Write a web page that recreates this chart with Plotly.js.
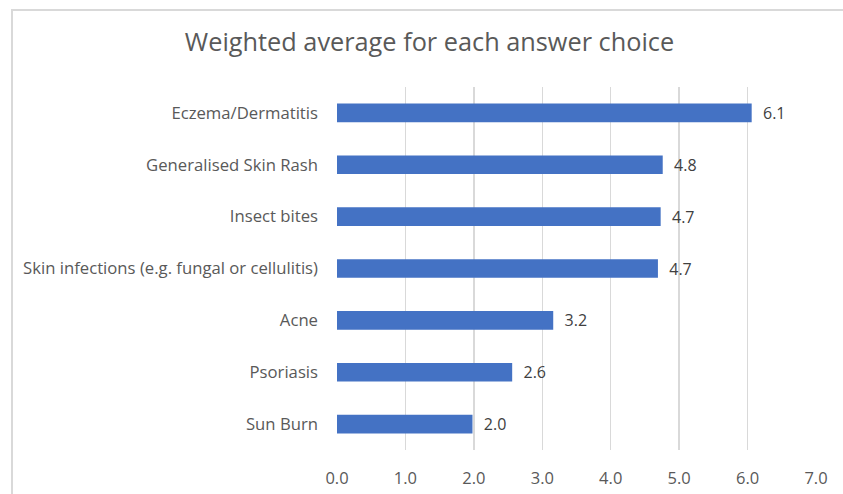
<!DOCTYPE html>
<html>
<head>
<meta charset="utf-8">
<script src="https://cdn.plot.ly/plotly-3.0.1.min.js"></script>
<style>
html,body{margin:0;padding:0;background:#fff;overflow:hidden;}
#wrap{position:relative;width:843px;height:494px;overflow:hidden;}
#chart{width:843px;height:494px;}
#frame{position:absolute;left:11px;top:9px;width:900px;height:600px;
  border-left:2px solid #d9d9d9;border-top:2px solid #d9d9d9;pointer-events:none;}
</style>
</head>
<body>
<div id="wrap">
<div id="chart"></div>
<div id="frame"></div>
</div>
<script>
const categories = [
  "Eczema/Dermatitis",
  "Generalised Skin Rash",
  "Insect bites",
  "Skin infections (e.g. fungal or cellulitis)",
  "Acne",
  "Psoriasis",
  "Sun Burn"
];
const values = [6.06, 4.76, 4.73, 4.69, 3.16, 2.56, 1.98];
const xTickVals = [0, 1, 2, 3, 4, 5, 6, 7];
const xTickText = ["0.0", "1.0", "2.0", "3.0", "4.0", "5.0", "6.0", "7.0"];
const chartTitle = "Weighted average for each answer choice";

const FONT = "'Open Sans', Lato, sans-serif";

const trace = {
  type: "bar",
  orientation: "h",
  y: categories,
  x: values,
  marker: {color: "#4472c4"},
  text: values.map(v => "\u00a0\u00a0" + v.toFixed(1)),
  textposition: "outside",
  constraintext: "none",
  cliponaxis: false,
  textfont: {family: FONT, size: 16, color: "#404040"},
  hoverinfo: "none"
};

const layout = {
  width: 843,
  height: 494,
  margin: {l: 337, r: 26.5, t: 87, b: 44, pad: 0},
  paper_bgcolor: "#ffffff",
  plot_bgcolor: "#ffffff",
  showlegend: false,
  bargap: 0.64,
  title: {
    text: chartTitle,
    font: {family: FONT, size: 25.3, color: "#595959"},
    x: 0.5095, xref: "container", xanchor: "center",
    y: 0.915, yref: "container", yanchor: "middle"
  },
  xaxis: {
    range: [0, 7],
    tickvals: xTickVals,
    ticktext: xTickText,
    showgrid: true,
    gridcolor: "#d9d9d9",
    gridwidth: 1.5,
    zeroline: false,
    showline: false,
    ticks: "",
    ticklabelstandoff: 16,
    tickfont: {family: FONT, size: 16.5, color: "#595959"},
    fixedrange: true
  },
  yaxis: {
    type: "category",
    autorange: "reversed",
    showgrid: false,
    zeroline: false,
    showline: false,
    ticks: "",
    ticklabelstandoff: 18,
    tickfont: {family: FONT, size: 16.7, color: "#595959"},
    fixedrange: true
  }
};

Plotly.newPlot("chart", [trace], layout, {displayModeBar: false, staticPlot: true});
</script>
</body>
</html>
